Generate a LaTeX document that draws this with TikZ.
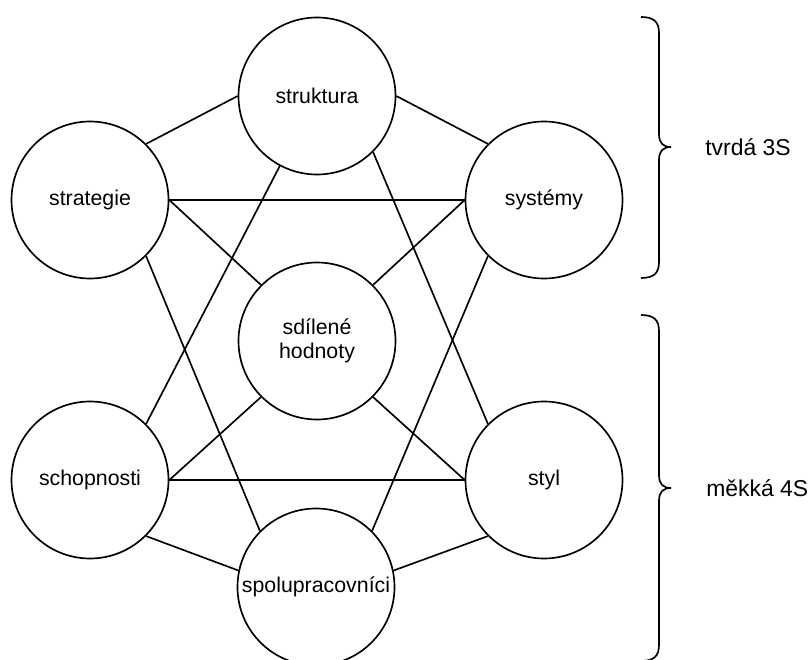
\documentclass[tikz,border=0pt]{standalone}
\usepackage{fontspec}
\setmainfont{Liberation Sans}
\begin{document}
\begin{tikzpicture}[x=0.75pt,y=-0.75pt,
  sbox/.style={circle,draw,line width=1.25pt,minimum size=117.75pt,inner sep=0pt,
    font=\fontsize{16}{17.5}\selectfont,align=center},
  link/.style={line width=1.25pt},
  brc/.style={line width=1.25pt},
  lbl/.style={font=\fontsize{17.2}{20}\selectfont,anchor=west,inner sep=0pt}]
\useasboundingbox (0,0) rectangle (808,660);
\clip (0,0) rectangle (808,660);

\node[sbox] (str) at (317,96) {struktura};
\node[sbox] (stg) at (90,200) {strategie};
\node[sbox] (sys) at (544,200) {systémy};
\node[sbox] (sdh) at (317,341) {sdílené\\hodnoty};
\node[sbox] (sch) at (90,480) {schopnosti};
\node[sbox] (sty) at (544,480) {styl};
\node[sbox] (spo) at (316,587) {spolupracovníci};

\draw[link] (stg.45) -- (str.180);
\draw[link] (str.0) -- (sys.135);
\draw[link] (stg.0) -- (sys.180);
\draw[link] (stg.0) -- (sdh.135);
\draw[link] (sys.180) -- (sdh.45);
\draw[link] (str.242) -- (sch.45);
\draw[link] (str.315) -- (sty.135);
\draw[link] (stg.315) -- (spo.135);
\draw[link] (sys.225) -- (spo.45);
\draw[link] (sdh.225) -- (sch.0);
\draw[link] (sdh.315) -- (sty.180);
\draw[link] (sch.0) -- (sty.180);
\draw[link] (sch.315) -- (spo.168);
\draw[link] (sty.225) -- (spo.12);

% braces
\coordinate (b1) at (671,147);
\coordinate (b2) at (671,488);
\draw[brc] (641,17) .. controls (654,17) and (659,22) .. (659,33) -- (659,134)
  .. controls (659,143) and (663,147) .. (b1)
  .. controls (663,147) and (659,151) .. (659,160) -- (659,262)
  .. controls (659,273) and (654,278) .. (641,278);
\draw[brc] (641,315) .. controls (654,315) and (659,320) .. (659,331) -- (659,475)
  .. controls (659,484) and (663,488) .. (b2)
  .. controls (663,488) and (659,492) .. (659,501) -- (659,645)
  .. controls (659,656) and (654,661) .. (641,661);
\node[lbl] (t3) at (705,147) {tvrdá 3S};
\node[lbl] (m4) at (706,488) {měkká 4S};
\end{tikzpicture}
\end{document}
